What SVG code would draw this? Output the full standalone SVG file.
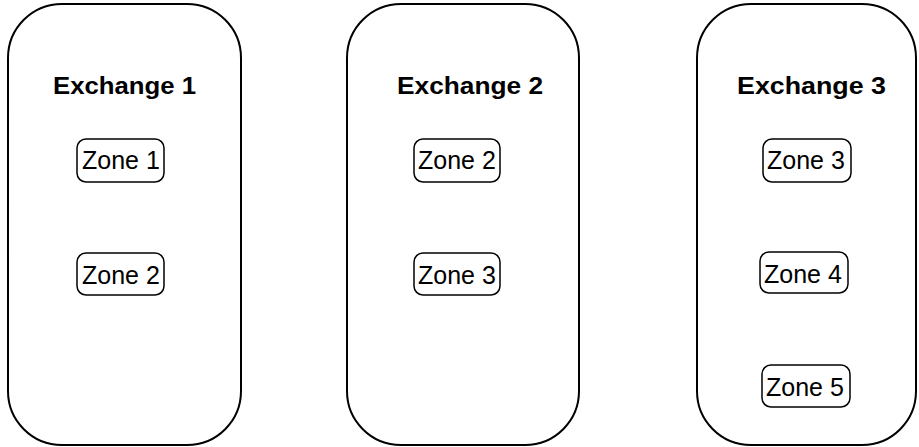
<svg xmlns="http://www.w3.org/2000/svg" width="919" height="447" viewBox="0 0 919 447">
<style>
.ex{fill:#fff;stroke:#000;stroke-width:2}
.zn{fill:#fff;stroke:#000;stroke-width:1.5}
.t{font-family:"Liberation Sans",Arial,sans-serif;font-weight:bold;font-size:24px;fill:#000}
.z{font-family:"Liberation Sans",Arial,sans-serif;font-size:25px;fill:#000}
</style>
<rect width="919" height="447" fill="#fff"/>
<g id="exchange1">
<rect class="ex" x="8" y="4" width="233" height="441" rx="54" ry="54"/>
<text class="t" x="53" y="94" textLength="143" lengthAdjust="spacingAndGlyphs">Exchange 1</text>
</g>
<g id="exchange2">
<rect class="ex" x="347" y="4" width="232" height="441" rx="54" ry="54"/>
<text class="t" x="397" y="94" textLength="146" lengthAdjust="spacingAndGlyphs">Exchange 2</text>
</g>
<g id="exchange3">
<rect class="ex" x="697" y="4" width="219" height="441" rx="54" ry="54"/>
<text class="t" x="737" y="94" textLength="149" lengthAdjust="spacingAndGlyphs">Exchange 3</text>
</g>
<g id="e1z1"><rect class="zn" x="77" y="139" width="87" height="43" rx="9"/><text class="z" x="82" y="169">Zone 1</text></g>
<g id="e1z2"><rect class="zn" x="77" y="253" width="87" height="42" rx="9"/><text class="z" x="82" y="284">Zone 2</text></g>
<g id="e2z2"><rect class="zn" x="414" y="139" width="86" height="43" rx="9"/><text class="z" x="418" y="169">Zone 2</text></g>
<g id="e2z3"><rect class="zn" x="414" y="253" width="86" height="42" rx="9"/><text class="z" x="418" y="284">Zone 3</text></g>
<g id="e3z3"><rect class="zn" x="763" y="139" width="88" height="43" rx="9"/><text class="z" x="767" y="169">Zone 3</text></g>
<g id="e3z4"><rect class="zn" x="760" y="252" width="88" height="41" rx="9"/><text class="z" x="764" y="283">Zone 4</text></g>
<g id="e3z5"><rect class="zn" x="762" y="365" width="88" height="42" rx="9"/><text class="z" x="766" y="396">Zone 5</text></g>
<g id="connectors"></g>
</svg>
